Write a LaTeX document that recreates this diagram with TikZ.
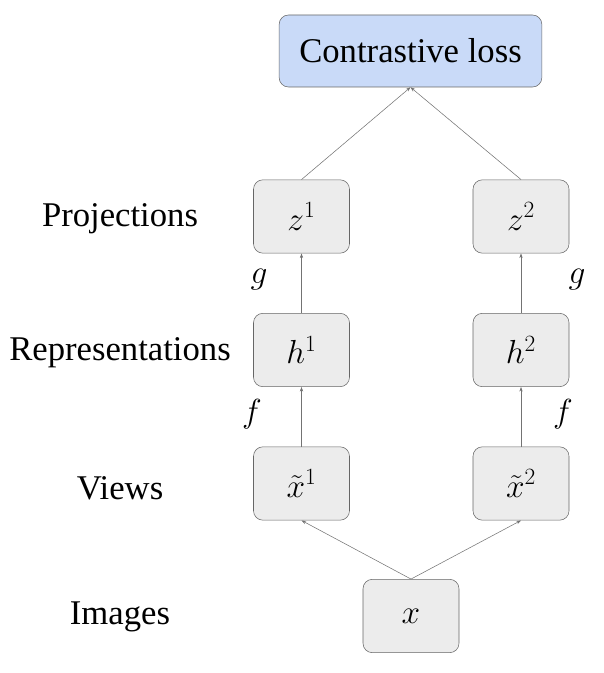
\documentclass[tikz,border=0pt]{standalone}
\usepackage{fix-cm}
\usepackage{amsmath}
\usepackage{fontspec}
\setmainfont{Liberation Serif}
\usepackage{tikz}
\usetikzlibrary{arrows.meta}
\tikzset{box/.style={draw=gray!80!black, fill=gray!15, rounded corners=7pt, minimum width=72pt, minimum height=55pt, inner sep=0pt, font=\fontsize{25}{28}\selectfont},
  lossbox/.style={box, minimum width=197pt, minimum height=54pt, font=\fontsize{26}{30}\selectfont},
  rowlabel/.style={font=\fontsize{26}{30}\selectfont},
  maplabel/.style={font=\fontsize{25}{28}\selectfont},
  link/.style={gray!90!black, line width=0.4pt, -{Stealth[length=3.5pt,width=2.5pt]}}}
\definecolor{lossblue}{RGB}{201,218,248}

\begin{document}
\begin{tikzpicture}[x=0.75pt, y=-0.75pt]
      \def\left{301.5}
      \def\right{521}
      \useasboundingbox (0,0) rectangle (603,673);
      \node [lossbox, fill=lossblue] (loss) at (410.5,51) {Contrastive loss};
      \node [box] (z1) at (\left,216.5) {$z^1$};
      \node [box] (z2) at (\right,216.5) {$z^2$};
      \node [box] (h1) at (\left,350) {$h^1$};
      \node [box] (h2) at (\right,350) {$h^2$};
      \node [box] (xt1) at (\left,483.5) {$\tilde{x}^1$};
      \node [box] (xt2) at (\right,483.5) {$\tilde{x}^2$};
      \node [box] (x) at (411,616) {$x$};
      \node [rowlabel] (projections) at (120,219) {Projections};
      \node [rowlabel] (representations) at (120,353) {Representations};
      \node [rowlabel] (views) at (120,488) {Views};
      \node [rowlabel] (images) at (120,617) {Images};
      \node [maplabel] (g1) at (259,280) {$g$};
      \node [maplabel] (g2) at (577,280) {$g$};
      \node [maplabel] (f1) at (252,414) {$f$};
      \node [maplabel] (f2) at (563,414) {$f$};
      \foreach \i in {1,2} {
        \draw [link] (x.north) -- (xt\i.south);
        \draw [link] (xt\i.north) -- (h\i.south);
        \draw [link] (h\i.north) -- (z\i.south);
        \draw [link] (z\i.north) -- (loss.south);
      }
    \end{tikzpicture}
\end{document}
